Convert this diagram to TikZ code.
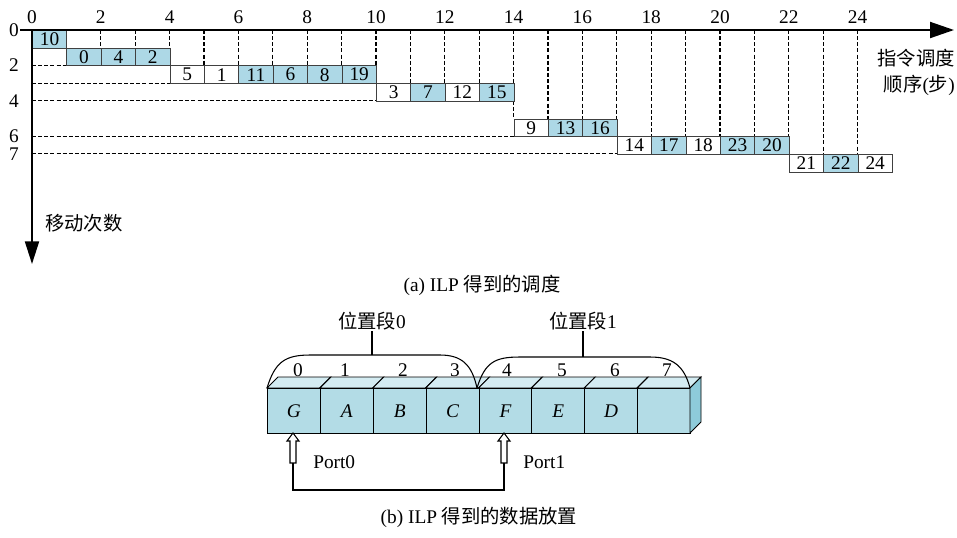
\documentclass[tikz,border=0pt]{standalone}
\usepackage{fontspec}
\setmainfont{Liberation Serif}
\newfontfamily\zhfont{Noto Sans CJK SC}
\newcommand\zhtext[1]{{\zhfont #1}}
\usetikzlibrary{arrows.meta}
\definecolor{cellblue}{HTML}{ADD8E6}
\definecolor{frontblue}{HTML}{B3DCE6}
\definecolor{topblue}{HTML}{D4ECF2}
\definecolor{sideblue}{HTML}{8ECBDA}
\begin{document}
\begin{tikzpicture}[x=0.75pt,y=-0.75pt,
  every node/.style={font=\fontsize{14.5}{17}\selectfont, inner sep=0pt},
  cell/.style={draw=black!75, line width=0.6pt, minimum width=25.8pt, minimum height=13.3pt, anchor=north west},
  guide/.style={line width=0.8pt, dash pattern=on 3pt off 1.6pt},
  axisline/.style={line width=1.5pt},
  fcell/.style={draw=black, line width=0.7pt, fill=frontblue, minimum width=39.66pt, minimum height=33.75pt, anchor=north west},
  face/.style={draw=black, line width=0.7pt},
  thinline/.style={line width=0.8pt}
]
\useasboundingbox (0,0) rectangle (957,537);

% ---------- (a) schedule ----------
% vertical guides
\foreach \i/\lv in {2/1,3/1,4/1,5/2,6/2,7/2,8/2,9/2,10/2,11/3,12/3,13/3,14/3,15/5,16/5,17/5,18/6,19/6,20/6,21/6,22/6,23/7,24/7}
  \draw[guide] ({32+34.4*\i},30) -- ({32+34.4*\i},{30+17.7*\lv});
\draw[guide] ({32+34.4*14},{30+17.7*4}) -- ({32+34.4*14},{30+17.7*5});
% horizontal guides
\foreach \lv/\e in {2/1,3/4,4/10,6/14,7/17}
  \draw[guide] (32,{30+17.7*\lv}) -- ({32+34.4*\e},{30+17.7*\lv});

% cells
\foreach \r/\s/\lst in {0/0/{10/cellblue},
    1/1/{0/cellblue,4/cellblue,2/cellblue},
    2/4/{5/white,1/white,11/cellblue,6/cellblue,8/cellblue,19/cellblue},
    3/10/{3/white,7/cellblue,12/white,15/cellblue},
    5/14/{9/white,13/cellblue,16/cellblue},
    6/17/{14/white,17/cellblue,18/white,23/cellblue,20/cellblue},
    7/22/{21/white,22/cellblue,24/white}}{
  \foreach \t/\c [count=\k from 0] in \lst {
    \node[cell, fill=\c] (q-\r-\t) at ({32+34.4*(\s+\k)},{30+17.7*\r}) {\t};
  }
}

% axes
\coordinate (xs) at (20,30);
\coordinate (xe) at (954,30);
\coordinate (ys) at (32,30);
\coordinate (ye) at (32,264);
\draw[axisline, -{Triangle[length=18pt,width=12pt]}] (xs) -- (xe);
\draw[axisline, -{Triangle[length=17pt,width=10.5pt]}] (ys) -- (ye);

% tick labels
\foreach \i in {0,2,...,24}
  \node (t\i) at ({32+34.4*\i},17) {\i};
\foreach \l in {0,2,4,6,7}
  \node (l\l) at (14,{30+17.7*\l}) {\l};

\node[anchor=east] (xl1) at (955,58) {\zhtext{指令调度}};
\node[anchor=east] (xl2) at (955,85) {\zhtext{顺序}(\zhtext{步})};
\node (yl) at (84,223) {\zhtext{移动次数}};
\node (capa) at (482,285) {(a) ILP \zhtext{得到的调度}};

% ---------- (b) data placement ----------
\foreach \k/\l in {0/G,1/A,2/B,3/C,4/F,5/E,6/D,7/{}} {
  \pgfmathsetmacro\xa{267+52.875*\k}
  \pgfmathsetmacro\xb{267+52.875*(\k+1)}
  \filldraw[face, fill=topblue] (\xa,388) -- (\xa+11,377) -- (\xb+11,377) -- (\xb,388) -- cycle;
  \node[fcell] (m\k) at (\xa,388) {\itshape\l};
}
\filldraw[face, fill=sideblue] (690,388) -- (701,377) -- (701,422) -- (690,433) -- cycle;

\foreach \n/\x in {0/298,1/345,2/403,3/455,4/507,5/562,6/615,7/667}
  \node (n\n) at (\x,370) {\n};

% brackets
\draw[thinline] (267,388) .. controls (275,362) and (285,355) .. (310,355) -- (440,355) .. controls (462,355) and (472,365) .. (477,388);
\draw[thinline] (477,388) .. controls (485,362) and (495,357) .. (520,357) -- (650,357) .. controls (672,357) and (684,365) .. (690,388);
\node (s0) at (372,321) {\zhtext{位置段}0};
\node (s1) at (583,321) {\zhtext{位置段}1};
\coordinate (a0) at (372,355);
\coordinate (a1) at (583,357);
\draw[thinline] (372,331) -- (a0);
\draw[thinline] (583,331) -- (a1);

% ports
\foreach \x/\n in {293/0,504/1} {
  \filldraw[fill=white, thinline] (\x,433) -- (\x+6,441) -- (\x+3,441) -- (\x+3,463) -- (\x-3,463) -- (\x-3,441) -- (\x-6,441) -- cycle;
  \coordinate (ar\n) at (\x,463);
}
\draw[thinline] (ar0) -- ++(0,27) -| (ar1);
\node[anchor=west] (pt0) at (313,462) {Port0};
\node[anchor=west] (pt1) at (523,462) {Port1};

\node (capb) at (479,517) {(b) ILP \zhtext{得到的数据放置}};
\end{tikzpicture}
\end{document}
